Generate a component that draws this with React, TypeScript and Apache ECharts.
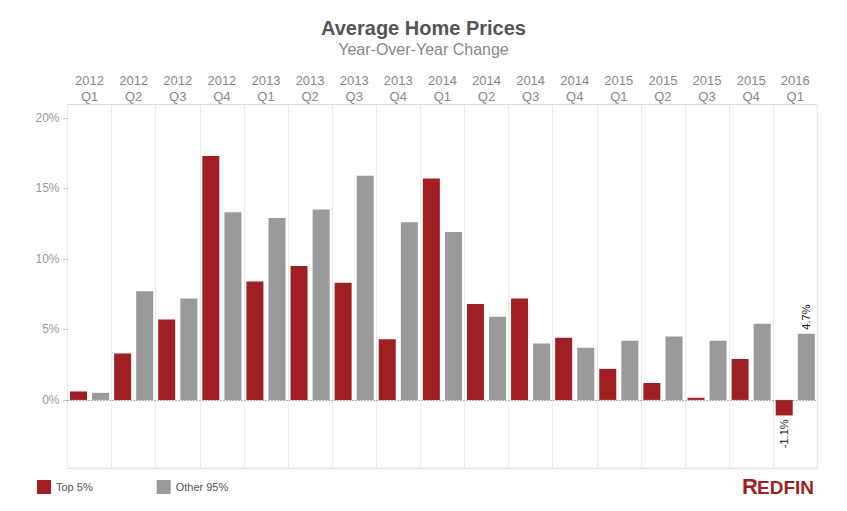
import React, { useEffect, useRef } from "react";
import * as echarts from "echarts";

const categories = [
  "2012\nQ1", "2012\nQ2", "2012\nQ3", "2012\nQ4",
  "2013\nQ1", "2013\nQ2", "2013\nQ3", "2013\nQ4",
  "2014\nQ1", "2014\nQ2", "2014\nQ3", "2014\nQ4",
  "2015\nQ1", "2015\nQ2", "2015\nQ3", "2015\nQ4",
  "2016\nQ1",
];
const top5 = [0.6, 3.3, 5.7, 17.3, 8.4, 9.5, 8.3, 4.3, 15.7, 6.8, 7.2, 4.4, 2.2, 1.2, 0.15, 2.9, -1.1];
const other95 = [0.5, 7.7, 7.2, 13.3, 12.9, 13.5, 15.9, 12.6, 11.9, 5.9, 4.0, 3.7, 4.2, 4.5, 4.2, 5.4, 4.7];
const yTicks = [0, 5, 10, 15, 20];

const FONT = "'Liberation Sans', Arial, sans-serif";
const RED = "#a01f23";
const GRAY = "#9a9a9a";

export default function App() {
  const ref = useRef<HTMLDivElement>(null);
  useEffect(() => {
    if (!ref.current) return;
    const chart = echarts.init(ref.current, null, { renderer: "svg" });
    const last = categories.length - 1;
    const labelCfg = (pos: string, align: string) => ({
      show: true,
      position: pos,
      rotate: 90,
      align,
      verticalAlign: "middle",
      distance: 4,
      color: "#111",
      fontSize: 11,
      fontFamily: FONT,
      formatter: (p: any) => p.value + "%",
    });
    chart.setOption({
      animation: false,
      textStyle: { fontFamily: FONT },
      title: {
        text: "Average Home Prices",
        subtext: "Year-Over-Year Change",
        left: "center",
        top: 17,
        itemGap: 1,
        padding: 0,
        textStyle: { fontSize: 20, fontWeight: "bold", color: "#555", lineHeight: 22, fontFamily: FONT },
        subtextStyle: { fontSize: 16, color: "#888", lineHeight: 18, fontFamily: FONT },
      },
      legend: {
        data: ["Top 5%", "Other 95%"],
        left: 37,
        top: 480,
        padding: 0,
        icon: "rect",
        itemWidth: 14,
        itemHeight: 14,
        itemGap: 64,
        textStyle: { fontSize: 11, color: "#555", fontFamily: FONT },
      },
      grid: {
        left: 67.5,
        right: 29.7,
        top: 104.5,
        bottom: 42.7,
        show: true,
        borderColor: "#dcdcdc",
        borderWidth: 1,
        containLabel: false,
      },
      xAxis: {
        type: "category",
        position: "top",
        data: categories,
        axisLine: { show: false },
        axisTick: { show: false },
        axisLabel: {
          interval: 0,
          margin: 0,
          color: "#888",
          fontSize: 13,
          lineHeight: 16,
          fontFamily: FONT,
        },
        splitLine: { show: true, interval: 0, lineStyle: { color: "#ebebeb", width: 1 } },
      },
      yAxis: {
        type: "value",
        min: -4.85,
        max: 20.95,
        axisLine: { show: false },
        splitLine: { show: false },
        axisTick: {
          show: true,
          length: 4,
          customValues: yTicks,
          lineStyle: { color: "#cccccc" },
        },
        axisLabel: {
          customValues: yTicks,
          formatter: (v: number) => v + "%",
          color: "#999",
          fontSize: 12,
          margin: 8,
          fontFamily: FONT,
        },
      },
      series: [
        {
          name: "Top 5%",
          type: "bar",
          barWidth: 17,
          barGap: "30%",
          itemStyle: { color: RED },
          data: top5.map((v, i) =>
            i === last ? { value: v, label: labelCfg("bottom", "right") } : v
          ),
        },
        {
          name: "Other 95%",
          type: "bar",
          barWidth: 17,
          barGap: "30%",
          itemStyle: { color: GRAY },
          data: other95.map((v, i) =>
            i === last ? { value: v, label: labelCfg("top", "left") } : v
          ),
          markLine: {
            silent: true,
            symbol: ["none", "none"],
            label: { show: false },
            lineStyle: { color: "#666", type: [1, 2], width: 1 },
            data: [{ yAxis: 0 }],
            z: 10,
          },
        },
      ],
      graphic: [
        {
          type: "text",
          x: 742,
          y: 497,
          style: {
            text: "R",
            fill: RED,
            font: `bold 22px ${FONT}`,
            textAlign: "left",
            textVerticalAlign: "bottom",
          },
        },
        {
          type: "text",
          x: 757,
          y: 496.5,
          style: {
            text: "EDFIN",
            fill: RED,
            font: `bold 19px ${FONT}`,
            textAlign: "left",
            textVerticalAlign: "bottom",
          },
        },
      ],
    });
    return () => chart.dispose();
  }, []);
  return (
    <div
      ref={ref}
      style={{ position: "absolute", left: 0, top: 0, width: 847, height: 511 }}
    />
  );
}
